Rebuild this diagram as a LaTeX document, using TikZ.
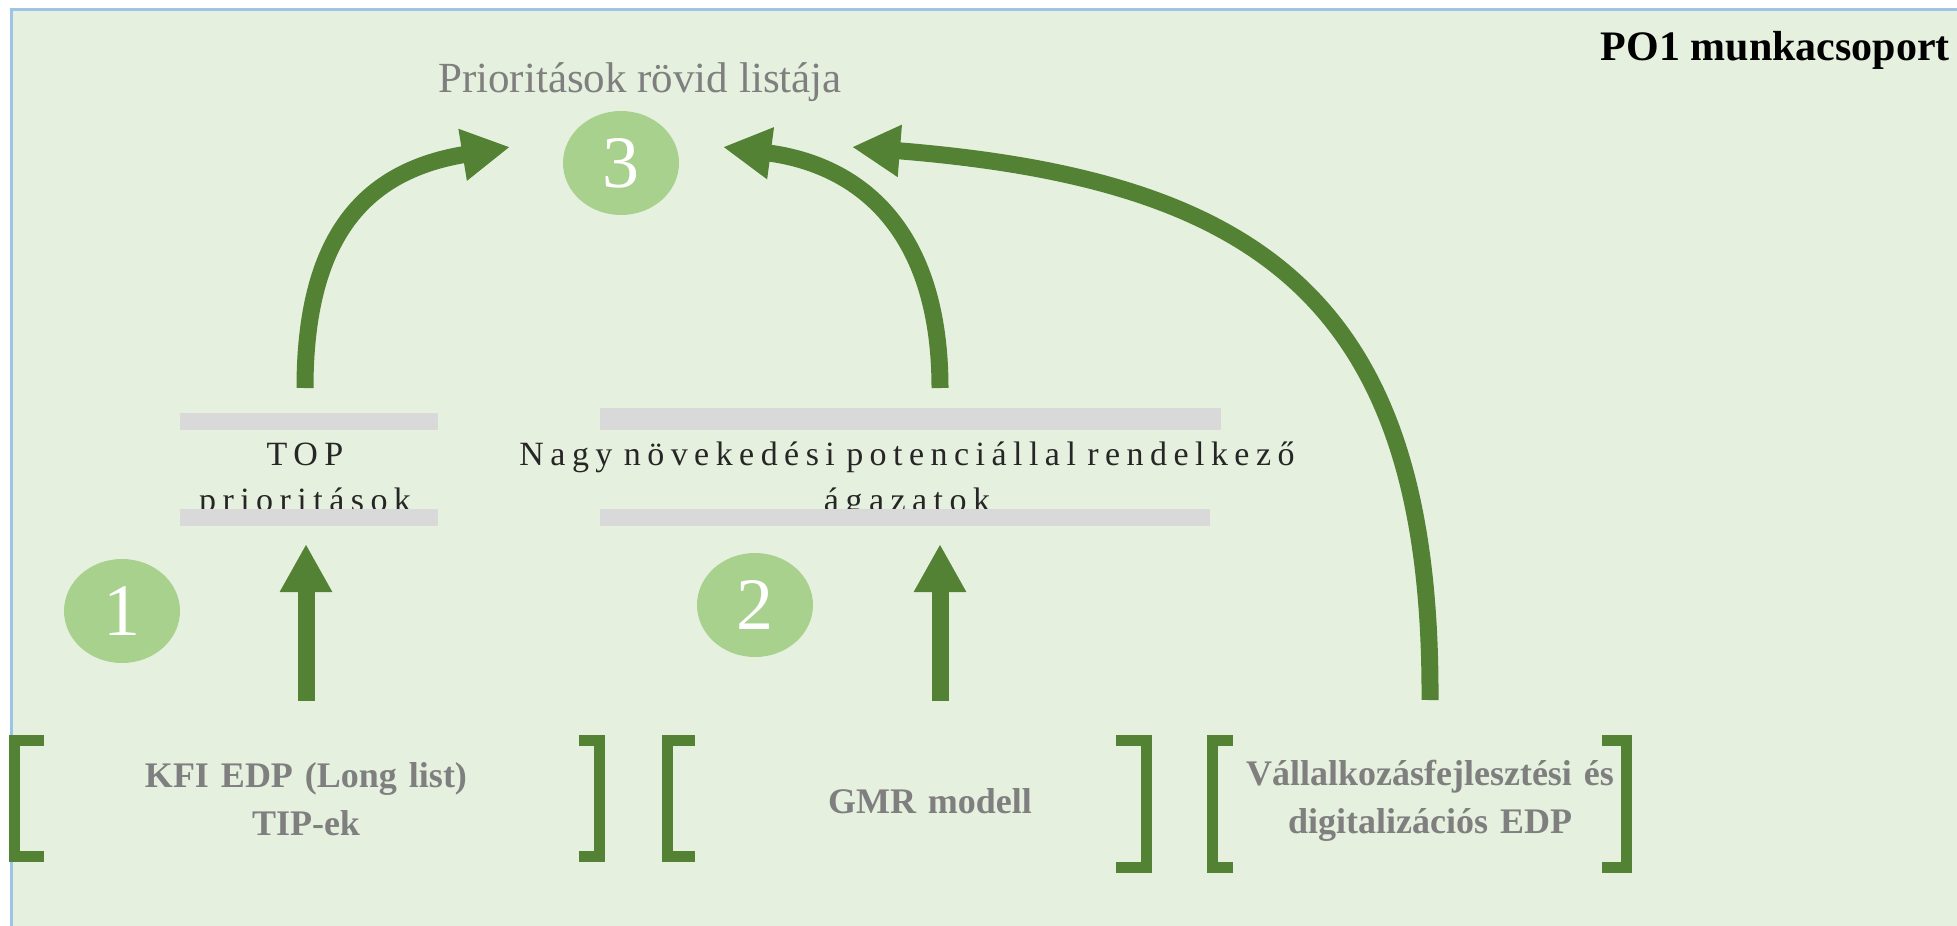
\documentclass[tikz,border=0pt]{standalone}
\usepackage{fontspec}
\setmainfont{Liberation Serif}
\newfontfamily\spacedfont[LetterSpace=19,WordSpace=2]{Liberation Serif}
\usetikzlibrary{arrows.meta,shapes.geometric}

\definecolor{panelbg}{RGB}{230,240,223}
\definecolor{panelline}{RGB}{157,195,230}
\definecolor{arrowgreen}{RGB}{84,130,53}
\definecolor{badgefill}{RGB}{169,209,142}
\definecolor{barfill}{RGB}{217,217,217}
\definecolor{labelgrey}{RGB}{127,127,127}
\definecolor{spacedtext}{RGB}{38,38,38}

\begin{document}
\begin{tikzpicture}[x=1pt,y=-1pt,
  flow/.style={draw=arrowgreen,line width=17pt,-{Triangle[length=48pt,width=49pt]}},
  bracketline/.style={draw=arrowgreen,line width=11pt,miter limit=10},
  badge/.style={ellipse,fill=badgefill,minimum width=116pt,minimum height=104pt,
    inner sep=0pt,text=white,font=\fontsize{74}{74}\selectfont},
  greybar/.style={rectangle,fill=barfill,inner sep=0pt,anchor=north west},
  spaced/.style={text=spacedtext,font=\spacedfont\fontsize{34}{46}\selectfont,
    align=center,anchor=base,inner sep=0pt},
  source/.style={text=labelgrey,font=\bfseries\fontsize{36}{48}\selectfont,
    align=center,anchor=base,inner sep=0pt}]

\useasboundingbox (0,0) rectangle (1957,926);
\clip (0,0) rectangle (1957,926);

% panel
\draw[panelline,line width=2.5pt,fill=panelbg] (11.25,9.25) rectangle (2000,1000);

% titles
\node[anchor=base east,inner sep=0pt,font=\bfseries\fontsize{42}{42}\selectfont] (group) at (1950,60) {PO1 munkacsoport};
\node[anchor=base,inner sep=0pt,text=labelgrey,font=\fontsize{43}{43}\selectfont] (short) at (640,92) {Prioritások rövid listája};

% numbered badges
\node[badge] (b3) at (621,163) {3};
\node[badge] (b1) at (122,611) {1};
\node[badge] (b2) at (755,605) {2};

% intermediate labels with grey rules
\node[spaced,text width=320pt] (top) at (305,465) {TOP\\prioritások};
\node[spaced,text width=900pt] (growth) at (907,465) {Nagy növekedési potenciállal rendelkező\\ágazatok};
\node[greybar,minimum width=258pt,minimum height=17pt] (topA) at (180,413) {};
\node[greybar,minimum width=258pt,minimum height=17pt] (topB) at (180,509) {};
\node[greybar,minimum width=621pt,minimum height=22pt] (growthA) at (600,408) {};
\node[greybar,minimum width=610pt,minimum height=17pt] (growthB) at (600,509) {};

% source labels
\node[source,text width=480pt] (kfi) at (306,787) {KFI EDP (Long list)\\TIP-ek};
\node[source,text width=400pt] (gmr) at (930,813) {GMR modell};
\node[source,text width=420pt] (vfd) at (1430,785) {Vállalkozásfejlesztési és\\digitalizációs EDP};

% brackets around the sources
\draw[bracketline] (44,740.5) -- (14.5,740.5) -- (14.5,856.5) -- (44,856.5);
\draw[bracketline] (579,740.5) -- (599.5,740.5) -- (599.5,856.5) -- (579,856.5);
\draw[bracketline] (695,740.5) -- (667.5,740.5) -- (667.5,856.5) -- (695,856.5);
\draw[bracketline] (1116,740.5) -- (1146.5,740.5) -- (1146.5,867.5) -- (1116,867.5);
\draw[bracketline] (1233,740.5) -- (1212.5,740.5) -- (1212.5,867.5) -- (1233,867.5);
\draw[bracketline] (1602,740.5) -- (1626.5,740.5) -- (1626.5,867.5) -- (1602,867.5);

% arrow end points
\coordinate (kfiOut) at (306,701);
\coordinate (topIn) at (306,544);
\coordinate (gmrOut) at (940,701);
\coordinate (growthIn) at (940,544);
\coordinate (topOut) at (305,388);
\coordinate (growthOut) at (940,388);
\coordinate (vfdOut) at (1430,700);
\coordinate (shortInA) at (510,147);
\coordinate (shortInB) at (723,147);
\coordinate (shortInC) at (852,147);

% arrows
\draw[flow] (kfiOut) -- (topIn);
\draw[flow] (gmrOut) -- (growthIn);
\draw[flow] (topOut) .. controls (305,230) and (370,170) .. (shortInA);
\draw[flow] (growthOut) .. controls (940,230) and (860,165) .. (shortInB);
\draw[flow] (vfdOut) .. controls (1432,300) and (1260,180) .. (shortInC);
\end{tikzpicture}
\end{document}
